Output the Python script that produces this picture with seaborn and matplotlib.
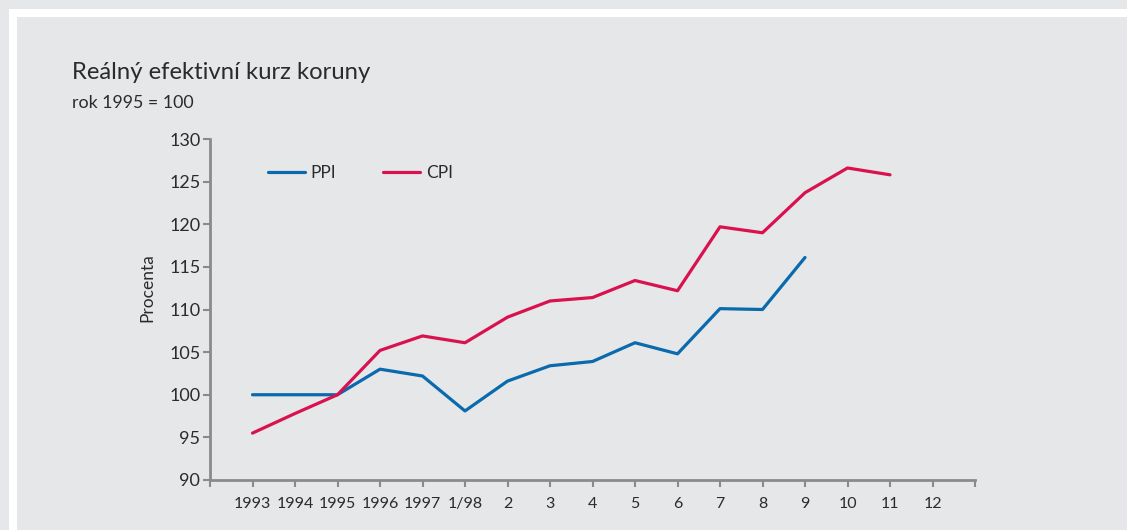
import matplotlib
matplotlib.use("Agg")
import matplotlib.pyplot as plt
from matplotlib.patches import Rectangle
import seaborn as sns
import pandas as pd
import numpy as np

# data
labels = ["1993", "1994", "1995", "1996", "1997", "1/98", "2", "3", "4",
          "5", "6", "7", "8", "9", "10", "11", "12"]
ppi = [100.0, 100.0, 100.0, 103.0, 102.2, 98.1, 101.6, 103.4, 103.9,
       106.1, 104.8, 110.1, 110.0, 116.1, np.nan, np.nan, np.nan]
cpi = [95.5, 97.8, 100.0, 105.2, 106.9, 106.1, 109.1, 111.0, 111.4,
       113.4, 112.2, 119.7, 119.0, 123.7, 126.6, 125.8, np.nan]
yticks = [90, 95, 100, 105, 110, 115, 120, 125, 130]

bg = "#e6e7e9"
blue = "#0a6aad"
red = "#d9124f"
txt = "#2b2b2b"
axis_col = "#8a8a8a"

sns.set_style("white", {"axes.facecolor": bg, "figure.facecolor": bg})
plt.rcParams["font.family"] = ["Lato", "DejaVu Sans"]

df = pd.DataFrame({"pos": np.arange(len(labels)), "PPI": ppi, "CPI": cpi})

fig = plt.figure(figsize=(11.27, 5.30), dpi=100)
W, H = 1127, 530
# white frame behind everything
fig.patches.append(Rectangle((9 / W, -0.1), 1.2, 1.1 - 9 / H, transform=fig.transFigure,
                             facecolor="white", edgecolor="none", zorder=-3))
fig.patches.append(Rectangle((17 / W, -0.1), 1.2, 1.1 - 17 / H, transform=fig.transFigure,
                             facecolor=bg, edgecolor="none", zorder=-2))

ax = fig.add_axes([210 / W, 1 - 480 / H, 765 / W, 341 / H])
ax.set_zorder(1)
ax.set_facecolor(bg)

sns.lineplot(data=df, x="pos", y="PPI", ax=ax, color=blue, linewidth=2.3, label="PPI")
sns.lineplot(data=df, x="pos", y="CPI", ax=ax, color=red, linewidth=2.3, label="CPI")

ax.set_xlim(-1, 17)
ax.set_ylim(90, 130)
ax.set_xticks(np.arange(-1, 18))
ax.set_xticklabels([""] + labels + [""])
ax.set_yticks(yticks)
ax.set_yticklabels([str(v) for v in yticks])

for s in ["top", "right"]:
    ax.spines[s].set_visible(False)
for s in ["left", "bottom"]:
    ax.spines[s].set_color(axis_col)
    ax.spines[s].set_linewidth(2)

ax.tick_params(axis="x", direction="out", length=5, width=1.5, color=axis_col,
               labelsize=11.5, labelcolor=txt, pad=7)
ax.tick_params(axis="y", direction="out", length=5, width=1.5, color=axis_col,
               labelsize=13, labelcolor=txt, pad=2)
ax.tick_params(left=True, bottom=True)

ax.set_xlabel("")
ax.set_ylabel("Procenta", fontsize=12.5, color=txt)
ax.yaxis.set_label_coords(-0.071, 0.565)

ax.legend(loc="upper left", bbox_to_anchor=(0.076, 0.924), ncol=2, frameon=False,
          fontsize=12.5, handlelength=2.1, handletextpad=0.35, columnspacing=2.7,
          borderpad=0, borderaxespad=0, labelcolor=txt)

fig.text(72 / W, 1 - 79 / H, "Reálný efektivní kurz koruny", fontsize=17.2, color=txt)
fig.text(72 / W, 1 - 108 / H, "rok 1995 = 100", fontsize=12.8, color=txt)

fig.savefig("out.png", dpi=100, facecolor=bg)
